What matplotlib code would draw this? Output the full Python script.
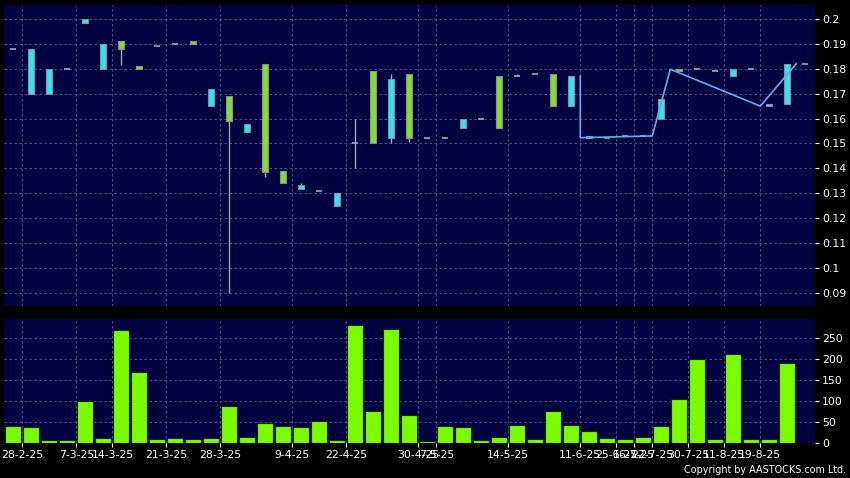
import matplotlib
matplotlib.use("Agg")
from matplotlib import pyplot as plt
import numpy as np

# daily candles (only days with trades)
opens = [0.188, 0.188, 0.180, 0.180, 0.200, 0.190, 0.188, 0.180, 0.189, 0.190,
         0.190, 0.172, 0.159, 0.158, 0.1387, 0.134, 0.1333, 0.131, 0.130, 0.150,
         0.150, 0.176, 0.152, 0.152, 0.152, 0.160, 0.160, 0.156, 0.177, 0.178,
         0.165, 0.177, 0.152, 0.152, 0.153, 0.153, 0.1677, 0.179, 0.180, 0.179,
         0.180, 0.180, 0.1657, 0.182, 0.182]
closes = [0.188, 0.170, 0.170, 0.180, 0.1985, 0.180, 0.191, 0.181, 0.189, 0.190,
          0.191, 0.165, 0.169, 0.1545, 0.182, 0.139, 0.1318, 0.131, 0.125, 0.150,
          0.179, 0.152, 0.178, 0.152, 0.152, 0.156, 0.160, 0.177, 0.177, 0.178,
          0.178, 0.165, 0.153, 0.152, 0.153, 0.153, 0.160, 0.180, 0.180, 0.179,
          0.177, 0.180, 0.165, 0.1657, 0.182]
highs = [0.188, 0.188, 0.180, 0.180, 0.200, 0.190, 0.191, 0.181, 0.189, 0.190,
         0.191, 0.172, 0.169, 0.158, 0.182, 0.139, 0.134, 0.131, 0.130, 0.160,
         0.179, 0.178, 0.178, 0.152, 0.152, 0.160, 0.160, 0.177, 0.178, 0.178,
         0.178, 0.177, 0.153, 0.152, 0.153, 0.153, 0.1677, 0.180, 0.180, 0.179,
         0.180, 0.180, 0.1657, 0.182, 0.182]
lows = [0.188, 0.170, 0.170, 0.180, 0.1985, 0.180, 0.1815, 0.180, 0.189, 0.190,
        0.190, 0.165, 0.090, 0.1545, 0.1367, 0.134, 0.1318, 0.131, 0.125, 0.140,
        0.150, 0.150, 0.1505, 0.152, 0.152, 0.156, 0.160, 0.156, 0.177, 0.178,
        0.165, 0.165, 0.152, 0.152, 0.153, 0.153, 0.160, 0.179, 0.180, 0.179,
        0.177, 0.180, 0.165, 0.1657, 0.182]
volumes = [41, 37, 8, 8, 101, 12, 269, 169, 9, 13,
           9, 11, 88, 15, 47, 41, 37, 53, 8, 281,
           76, 272, 66, 4, 41, 37, 8, 15, 44, 9,
           76, 44, 28, 13, 10, 15, 41, 104, 200, 9,
           212, 9, 9, 190, 0]

# overlay line (sits between candles)
line_x = [31.5, 31.5, 35.5, 36.5, 41.5, 43.5]
line_y = [0.177, 0.1523, 0.153, 0.1798, 0.165, 0.182]

date_pos = [0.5, 3.5, 5.5, 8.5, 11.5, 15.5, 18.5, 22.5, 23.5, 27.5,
            31.5, 33.5, 34.5, 35.5, 37.5, 39.5, 41.5]
date_labels = ["28-2-25", "7-3-25", "14-3-25", "21-3-25", "28-3-25", "9-4-25",
               "22-4-25", "30-4-25", "7-5-25", "14-5-25", "11-6-25", "25-6-25",
               "16-7-25", "22-7-25", "30-7-25", "11-8-25", "19-8-25"]

price_ticks = [0.09, 0.1, 0.11, 0.12, 0.13, 0.14, 0.15, 0.16, 0.17, 0.18, 0.19, 0.2]
vol_ticks = [0, 50, 100, 150, 200, 250]

BG = "#000040"
GRID = "#5e5e92"
UP = "#80e028"
DOWN = "#33e3f0"
EDGE = "#8c8c9c"

fig = plt.figure(figsize=(8.5, 4.78), dpi=100, facecolor="black")
ax1 = fig.add_axes([4/850, 1-306/478, 811/850, 301/478])
ax2 = fig.add_axes([4/850, 1-443/478, 811/850, 124/478])

x = np.arange(len(opens))
o = np.array(opens); c = np.array(closes)
w = 0.32

for ax in (ax1, ax2):
    ax.set_facecolor(BG)
    for s in ax.spines.values():
        s.set_visible(False)
    ax.set_xlim(-0.52, 44.54)
    ax.yaxis.tick_right()
    ax.tick_params(axis="y", colors="white", labelsize=7.8, length=3, pad=2)
    for p in date_pos:
        ax.axvline(p, color=GRID, lw=0.6, ls=(0, (3, 3)), zorder=0)
    ax.set_axisbelow(True)

# price panel
ax1.set_ylim(0.0847, 0.2056)
ax1.set_yticks(price_ticks)
ax1.set_yticklabels(["%g" % t for t in price_ticks])
ax1.set_xticks([])
for t in price_ticks:
    ax1.axhline(t, color=GRID, lw=0.6, ls=(0, (3, 3)), zorder=0)

ax1.vlines(x, lows, highs, color="#a8a8b8", lw=1, zorder=2)
up = c > o
down = c < o
flat = c == o
ax1.bar(x[up], (c - o)[up], bottom=o[up], width=w, color=UP,
        edgecolor=EDGE, lw=0.8, zorder=3)
ax1.bar(x[down], (o - c)[down], bottom=c[down], width=w, color=DOWN,
        edgecolor=EDGE, lw=0.8, zorder=3)
ax1.hlines(c[flat], x[flat] - w/2, x[flat] + w/2, color="#a8a8b8", lw=1.2, zorder=3)

ax1.plot(line_x, line_y, color="#5ab4f0", lw=1.2, zorder=4)

# volume panel
ax2.set_ylim(0, 295)
ax2.set_yticks(vol_ticks)
for t in vol_ticks[1:]:
    ax2.axhline(t, color=GRID, lw=0.6, ls=(0, (3, 3)), zorder=0)
ax2.bar(x, volumes, width=0.9, color="#7cfc00", edgecolor="#0a2a00", lw=0.8, zorder=3)
ax2.set_xticks(date_pos)
ax2.set_xticklabels(date_labels)
ax2.tick_params(axis="x", colors="white", labelsize=7.8, length=3, pad=2)

fig.text(846/850, 1-470/478, "Copyright by AASTOCKS.com Ltd.", color="white",
         fontsize=6.9, ha="right", va="center")

fig.savefig("out.png", dpi=100, facecolor="black")
